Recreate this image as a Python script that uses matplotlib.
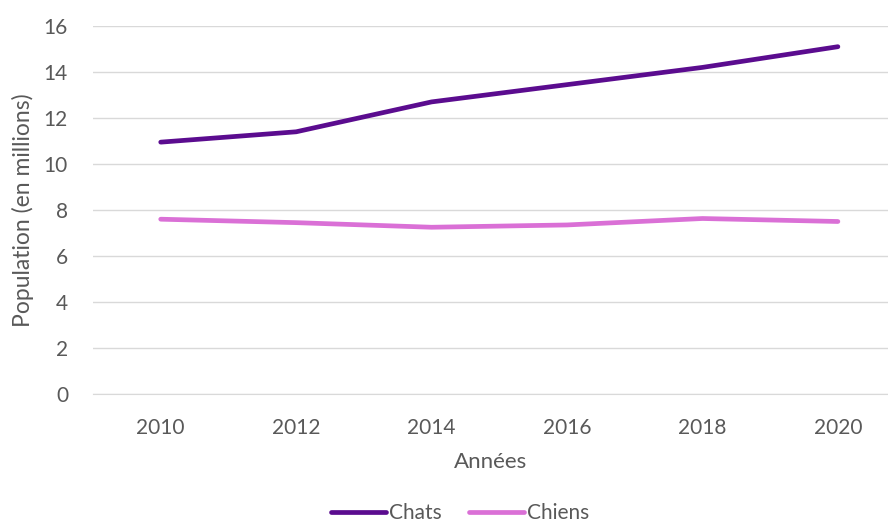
import matplotlib
matplotlib.use("Agg")
import matplotlib.pyplot as plt

annees = ["2010", "2012", "2014", "2016", "2018", "2020"]
chats = [10.95, 11.4, 12.7, 13.45, 14.2, 15.1]
chiens = [7.6, 7.45, 7.25, 7.35, 7.63, 7.5]

gris = "#595959"
plt.rcParams["font.family"] = ["Lato", "DejaVu Sans"]

fig = plt.figure(figsize=(8.88, 5.22), dpi=100)
ax = fig.add_axes([93 / 888, 128 / 522, 795 / 888, 368 / 522])

x = range(len(annees))
ax.plot(x, chats, color="#5B0C8F", lw=3.4, solid_capstyle="round", label="Chats")
ax.plot(x, chiens, color="#DA70D6", lw=3.4, solid_capstyle="round", label="Chiens")

ax.set_xlim(-0.5, 5.37)
ax.set_ylim(0, 16)
ax.set_yticks(range(0, 17, 2))
ax.set_xticks(list(x))
ax.set_xticklabels(annees)
ax.grid(axis="y", color="#d9d9d9", lw=1)
ax.set_axisbelow(True)
for s in ["top", "right", "left"]:
    ax.spines[s].set_visible(False)
ax.spines["bottom"].set_color("#d9d9d9")
ax.tick_params(axis="both", length=0, labelsize=15, labelcolor=gris)
ax.tick_params(axis="y", pad=18)
ax.tick_params(axis="x", pad=17)

ax.set_xlabel("Années", fontsize=16, color=gris, labelpad=10)
ax.set_ylabel("Population (en millions)", fontsize=16.5, color=gris, labelpad=7)

leg = ax.legend(loc="center", bbox_to_anchor=(460 / 888, 9 / 522),
                bbox_transform=fig.transFigure, ncol=2, frameon=False,
                fontsize=15, handlelength=2.65, handletextpad=0.15,
                columnspacing=1.3)
for t in leg.get_texts():
    t.set_color(gris)

fig.savefig("out.png", dpi=100)
